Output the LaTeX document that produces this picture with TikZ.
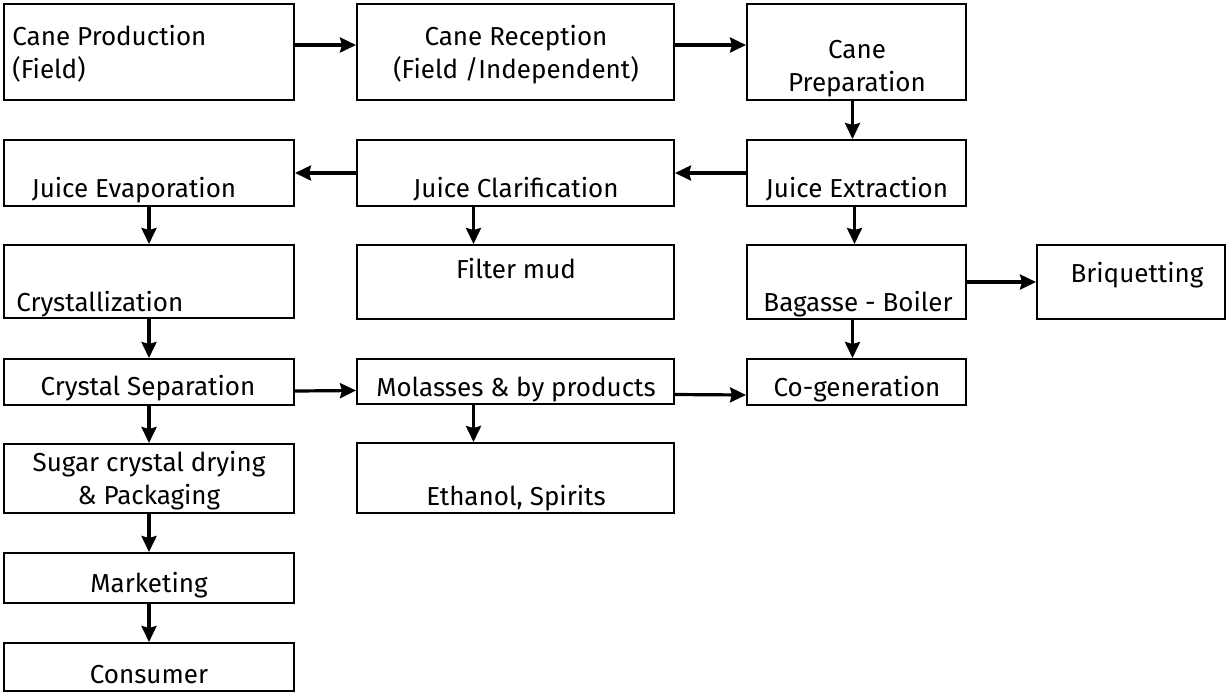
\documentclass[tikz,border=0pt]{standalone}
\usepackage{fontspec}
\setmainfont{Fira Sans}
\usetikzlibrary{positioning,arrows.meta,fit}
\tikzset{
  box/.style={draw=black, line width=1pt, inner sep=0pt, fit={#1}},
  lab/.style={font=\fontsize{13pt}{16.5pt}\selectfont, inner sep=0pt, anchor=base, align=center},
  arr/.style={-{Stealth[length=8pt,width=7.5pt,inset=1pt]}, line width=1.6pt},
}

\begin{document}
\begin{tikzpicture}[x=0.5pt, y=-0.5pt]
    \useasboundingbox (0,0) rectangle (1226,693);
    % boxes
    \node[box={(4,4) (294,100)}] (prod) {};
    \node[box={(357,4) (674,100)}] (recep) {};
    \node[box={(747,4) (966,100)}] (prep) {};
    \node[box={(4,140) (294,206)}] (evap) {};
    \node[box={(357,140) (674,206)}] (clar) {};
    \node[box={(747,140) (966,206)}] (extr) {};
    \node[box={(4,245) (294,318)}] (cryst) {};
    \node[box={(357,245) (674,319)}] (mud) {};
    \node[box={(747,245) (966,319)}] (bag) {};
    \node[box={(1037,245) (1225,319)}] (briq) {};
    \node[box={(4,359) (294,405)}] (sep) {};
    \node[box={(357,359) (674,404)}] (mol) {};
    \node[box={(747,359) (966,405)}] (cogen) {};
    \node[box={(4,444) (294,513)}] (dry) {};
    \node[box={(357,443) (674,513)}] (eth) {};
    \node[box={(4,553) (294,603)}] (mkt) {};
    \node[box={(4,643) (294,691)}] (cons) {};
    % texts (base = last line)
    \node[lab, anchor=base west, align=left] (prodT) at (12,78) {Cane Production\\(Field)};
    \node[lab] (recepT) at (516,78) {Cane Reception\\(Field /Independent)};
    \node[lab] (prepT) at (857,91) {Cane\\Preparation};
    \node[lab] (evapT) at (134,197) {Juice Evaporation};
    \node[lab] (clarT) at (516,197) {Juice Clarification};
    \node[lab] (extrT) at (857,197) {Juice Extraction};
    \node[lab, anchor=base west] (crystT) at (16,311) {Crystallization};
    \node[lab] (mudT) at (516,278) {Filter mud};
    \node[lab] (bagT) at (858,311) {Bagasse - Boiler};
    \node[lab] (briqT) at (1137,282) {Briquetting};
    \node[lab] (sepT) at (148,395) {Crystal Separation};
    \node[lab] (molT) at (516,396) {Molasses \& by products};
    \node[lab] (cogenT) at (857,396) {Co-generation};
    \node[lab] (dryT) at (149,504) {Sugar crystal drying\\\& Packaging};
    \node[lab] (ethT) at (516,505) {Ethanol, Spirits};
    \node[lab] (mktT) at (149,592) {Marketing};
    \node[lab] (consT) at (149,683) {Consumer};
    % arrows
    \draw[arr] ([yshift=3.5pt]prod.east) -- ([yshift=3.5pt]recep.west);
    \draw[arr] ([yshift=3.5pt]recep.east) -- ([yshift=3.5pt]prep.west);
    \draw[arr] ([xshift=-2pt]prep.south) -- ([xshift=-2pt]extr.north);
    \draw[arr] (extr.west) -- (clar.east);
    \draw[arr] (clar.west) -- (evap.east);
    \draw[arr] (evap.south) -- (cryst.north);
    \draw[arr] ([xshift=-21pt]clar.south) -- ([xshift=-21pt]mud.north);
    \draw[arr] ([xshift=-1pt]extr.south) -- ([xshift=-1pt]bag.north);
    \draw[arr] (bag.east) -- (briq.west);
    \draw[arr] ([xshift=-2pt]bag.south) -- ([xshift=-2pt]cogen.north);
    \draw[arr] (cryst.south) -- (sep.north);
    \draw[arr] ([yshift=-4.5pt]sep.east) -- ([yshift=-4.5pt]mol.west);
    \draw[arr] ([yshift=-6.5pt]mol.east) -- ([yshift=-6.5pt]cogen.west);
    \draw[arr] ([xshift=-21pt]mol.south) -- ([xshift=-21pt]eth.north);
    \draw[arr] (sep.south) -- (dry.north);
    \draw[arr] (dry.south) -- (mkt.north);
    \draw[arr] (mkt.south) -- (cons.north);
\end{tikzpicture}
\end{document}
